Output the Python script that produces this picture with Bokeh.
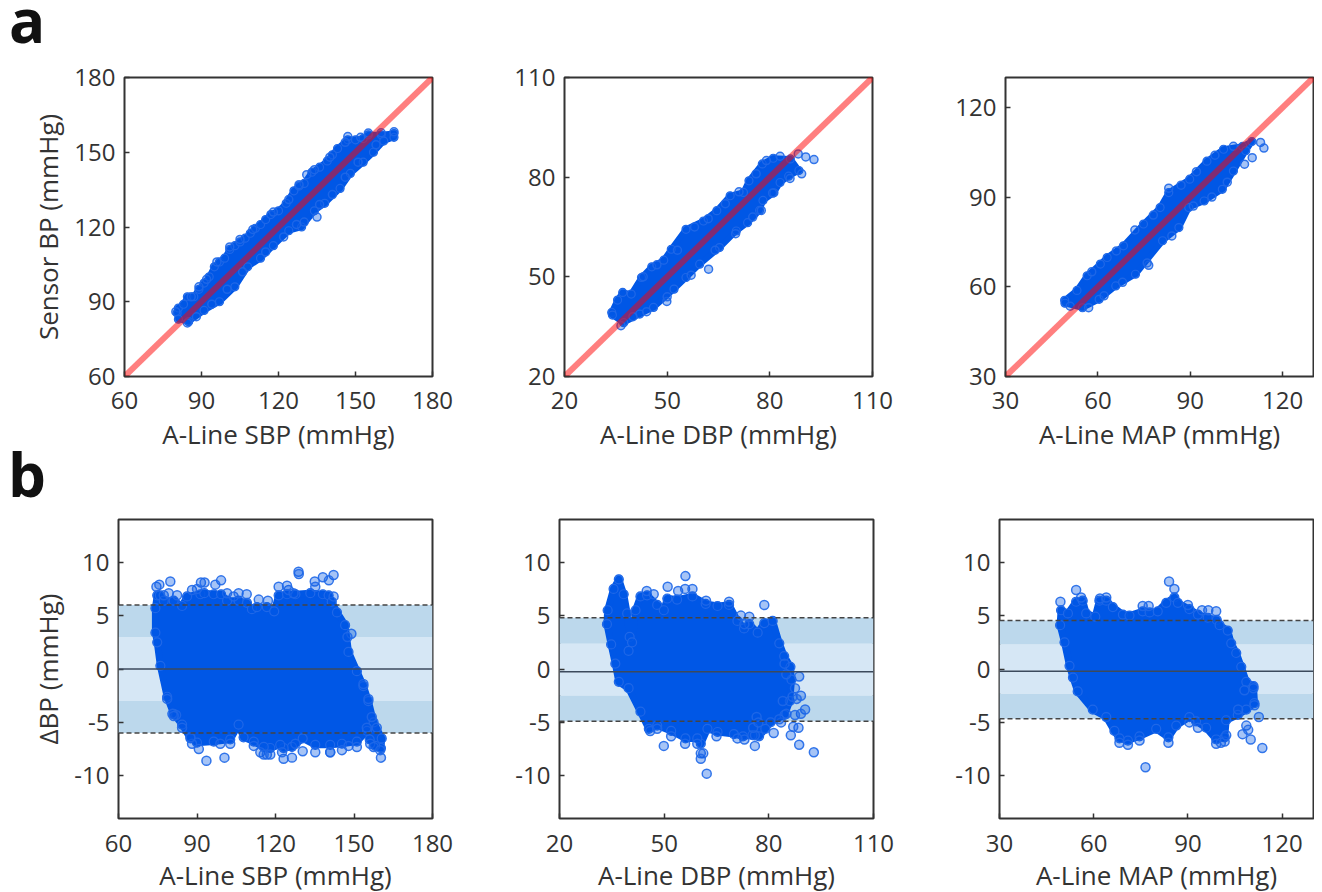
from bokeh.plotting import figure
from bokeh.layouts import column, row
from bokeh.models import FixedTicker, Div, Span, BoxAnnotation, Range1d
from bokeh.embed import file_html
from bokeh.resources import INLINE

# ---- panel a: outline of each dense cloud, then the isolated points
a1_x = [80.5,81,83,84.5,87,89,91,93,95,97,99,101,103,105,107,109,111,113,115,117,120,123,126,128,130,133,136,139,141,143,147,150,153,155,160,165,165,161,157,153,148,144,138,134,129,124,118,113,108,103,97,91,85,81]
a1_y = [85.5,87.5,89,92,92,95,97.5,100,104,106,107.5,111,112.5,114,115.5,117.5,119.5,121,123,125,126.5,129.5,134.5,136.5,137.5,142,144,146.5,149,151.5,155,155,155.5,157,157,157.5,156,154.5,150,146,141.5,135.5,129.5,126.5,120,118.5,112.5,107.5,104,96,90,86.5,82,83]
a1_px = [147,155,160,165,84.5,135,131,127,80,86,89,92,96,101,105,110,118,124,128,134,140,146,152,158,151,146,141,136,130,122,115,106,100,94,88]
a1_py = [156.3,157.7,157.8,158.2,81.5,124,141,121,86,92,96,99,106,112,115,119,126,131,137,143,148,154,156,153,146,140,133,129,122,116,110,102,95,89,84]

a2_x = [33.8,35.5,37,39.5,42.5,45.5,49,51.2,55.5,60.6,64.5,68.4,72.3,73.9,77.8,81,86,88.5,85.5,83,81.2,78,77,73.5,70.2,65.3,59.5,55.5,52,46,42,37.3,34]
a2_y = [39.3,43,45.3,44.8,49.8,53,55,58.3,64.3,66.8,69.9,74.4,75.4,78.9,84,85.7,85.5,82,80.3,78.4,75.3,73,70,66.3,63.8,58.8,53.8,49.8,46.3,40.8,38.8,36.2,38.5]
a2_px = [88.3,90.5,92.9,89.3,85.9,62.1,49.9,36.5,80.8,77.5,79,83,76,71,67,62,58,53,47,43,75,70,64,57,50,44,40]
a2_py = [87,86.1,85.3,81,79.6,52.3,42.6,35.3,75.2,70,85,86.3,81,75.6,72,67.5,65,58,53.6,50,68,63,58,50.5,44,39.5,38]

a3_x = [49.2,53.2,56.5,60.8,63,68.3,74.8,80.2,83,89.8,95.4,100.8,107,110,108,104,100.4,94.5,89.5,86.3,81,72.2,65.8,60.4,55,49.3]
a3_y = [55.5,58.8,63.7,67.6,69.8,73.7,81,86.5,91.5,96,102,106,107,108.6,105.5,98.7,92.6,88.7,86.5,79.8,75.4,64.2,60.3,55.8,53,54.5]
a3_px = [112.8,113.9,110.1,107.6,76.5,83,92,58,66,72,78,87,98,104,102,97,91,84,76,68,62,57,51]
a3_py = [108.3,106.4,103.2,101,67.2,93,98.5,65,72,79,84,94,104,107,95,90,87,77,68,61.5,57,53,53.5]

# ---- panel b
b1_x = [74.1,74.8,75.8,77.3,81.1,84.3,86.2,91.3,92.8,96.4,99.2,101.5,105.9,109.1,111,112.9,116.7,119.5,121.2,124.4,127.6,133.3,138.1,140.3,141.5,143.5,146.6,147.9,151.1,153.6,155.5,157.5,160.6,160.3,158.1,156,155,151.1,145.4,140.9,135.2,130.4,126.3,123.1,121.8,118,115.5,111.7,107.8,105.9,102.7,96.4,90,87.5,84.3,81.1,78.6,76,74.8,74.1]
b1_y = [5.7,6.9,6.9,6.4,6.4,5.9,6.8,7,7.1,7,7,6.4,6.4,6.2,5.6,5.8,5.8,5.4,6.9,7,7,7.1,7,6.9,6.3,5.3,4.1,1.6,-0.2,-1.6,-3,-5,-6.5,-7.4,-7.2,-6.6,-5.8,-6.8,-7,-7.1,-7.1,-6.5,-7.3,-7.4,-7.1,-7.4,-7.3,-6.8,-6.4,-5.2,-6.6,-6.8,-6.9,-6.5,-5.2,-4.2,-2.6,0.3,2.5,3.4]
b1_px = [79.8,93.6,100.5,130.4,128.8,128.9,142.2,138.1,140.4,135,99.2,91.5,92.9,149,147.5,82,80.6,126.3,123.1,74.5,75.6,160.3,77.3,79.2,82.4,88.1,90,97,104,125,126.9,135.2,142.2,113.6,117.1,88.1,90.7,98.9,102.7,111.7,114.2,116.7,122.5,127.6,135.2,140.9,147.9,151.1,145.4,153.6,155.5,156.8,158.7,154.9,156.2,157.5,160,78.6,81.1,84.3,87.5,121.2,124.4,109,105.9,101.5,118,115.5,140.9]
b1_py = [8.2,-8.6,-8.3,-7.7,9.1,8.9,8.8,8.6,8.3,8.2,8.3,8.1,8.1,3.3,3,-4.3,-4.2,-8.3,-8.4,7.7,7.9,-8.3,6.9,7.1,6.9,7.4,7.5,7.9,6.8,7.4,7.1,7.7,6.8,6.5,6.4,-7,-7.5,-7,-7,-7.2,-7.8,-8,-7.8,-7,-7.8,-7.8,-7.2,-7.3,-7.6,-1.4,-2.8,-4.5,-5.5,-5.5,-7,-7.3,-7.6,-2.8,-4.4,-5.5,-6.4,7.7,7.8,7,7.1,7.1,-8,-8,-7.8]

b2_x = [33.6,33.8,35.5,37,38.4,39.4,40.1,39.8,40.8,41.8,43.2,45.1,48,49.9,50.9,53.7,58.1,61.9,65.3,68.6,71,72.9,74.4,76.8,78.7,81.1,83,84.4,86.2,86.5,86,84.5,80.5,79,77.2,75.3,72.6,70,65.3,62.4,60.5,59.5,56.1,52,48,45.6,43.2,39.8,37,36,34.8]
b2_y = [4.2,5.5,7.5,8.4,7,5.2,3,1.7,2.5,5.5,6.8,6.9,6,5.5,6.6,6.5,6.8,6.1,5.9,6,4.5,3.8,4.2,3.4,4.3,4.5,2.4,1.2,0.2,-1,-3,-4.3,-5,-5.6,-6.3,-6.2,-6.3,-6.1,-5.9,-5.6,-7,-6.5,-6.5,-5.8,-5.3,-5.6,-4,-1.8,-1.2,0.5,2.3]
b2_px = [56.1,78.7,92.9,62.2,49.9,88.7,60.5,61.2,88.7,87.5,89.2,90.4,89.2,88,86.8,87.5,88.5,87,86.3,83.5,81.4,51,54,56,58.1,74.4,73,72,84.5,85,84,85,83,73,71,76,75.5,76.5,77,76,60.5,59.5,56,65,52,46,48,45,47,62,68.6]
b2_py = [8.7,6,-7.8,-9.8,-7.2,-7.1,-7.9,-7.9,-0.7,-1.8,-2.5,-3.8,-4.2,-2.8,-2.6,-4.3,-5.5,-5.4,-6.2,-5,-6,7.7,7.3,7.5,7.5,4.9,4.2,5,0.5,-0.5,-3,-4.2,-4.7,-6.6,-6.5,-6.2,-5.5,-4.5,-5,-7.2,-8.4,-7,-7,-6.3,-6.3,-5.8,-5.6,7.3,7,6.4,6.3]

b3_x = [49.6,51.8,54.4,56.5,57.6,60.5,61.8,64,66.1,69.3,71.4,75.6,77.8,80.4,83.1,85.7,86.8,90.5,93.2,96.3,99.2,100.1,102.7,103.8,105.4,107,108.6,110.9,111.2,108.6,105.9,102.2,101.7,99,95.8,92.6,90.5,86.3,83.8,79.9,74.6,70.9,68.2,66.6,64,59.7,54.9,53.4,52.3,50.7,49.3]
b3_y = [5.5,5.2,6.3,6.4,5.2,4.9,6.4,6.4,5.8,5.1,5,5.4,5.3,5.4,6.2,6.7,6.2,5.6,5.1,4.8,4.6,4.1,3.6,2.4,1.5,0.2,-1.2,-1.6,-3.2,-3.8,-4.3,-4.8,-6.4,-6.6,-5.5,-4.9,-4.5,-5.3,-6.4,-5.6,-6.3,-6.7,-6.5,-5.8,-4.5,-3.8,-2.1,-0.8,0.3,2.5,4.1]
b3_px = [49.4,54.4,84,85.7,76.5,113.7,112.6,110,107.4,108.6,109.2,99,96.5,75.6,77.5,68.2,70.9,74.6,83.8,99,100.5,101.7,102.2,90,94.5,110.9,111.2,108,106,56,62,64,90.5,93.2]
b3_py = [6.3,7.4,8.2,7.5,-9.2,-7.4,-4.5,-6.6,-6.1,-5.3,-5.7,5.4,5.5,5.9,5.9,-6.9,-7.1,-6.7,-6.9,-7,-6.9,-6.8,-6.2,6,5.5,-1.8,-3.4,-2,-3.8,6.7,6.6,6.7,-5,-5.5]

# ---- limits of agreement: mean, inner band (upper, lower), outer limit (upper, lower)
b1_lines = [0.0, 3.0, -3.0, 6.0, -6.0]
b2_lines = [-0.25, 2.36, -2.48, 4.8, -4.9]
b3_lines = [-0.2, 2.3, -2.32, 4.54, -4.66]

ranges = [(60, 180), (20, 110), (30, 130)]
ticks_a = [[60, 90, 120, 150, 180], [20, 50, 80, 110], [30, 60, 90, 120]]
ticks_b = [-10, -5, 0, 5, 10]
xlabels = ["A-Line SBP (mmHg)", "A-Line DBP (mmHg)", "A-Line MAP (mmHg)"]

FONT = "Open Sans"
TXT = "#333333"
BLUE = "#0057e6"
EDGE = "#1f68e8"


def base(i, yrange, yticks, left, fw, right, top, bottom, tick_gap, label_gap, ylabel=None):
    p = figure(width=left + fw + right, height=top + 299 + bottom,
               x_range=Range1d(*ranges[i]), y_range=Range1d(*yrange),
               min_border_left=left, min_border_right=right, min_border_top=top, min_border_bottom=bottom,
               toolbar_location=None, output_backend="svg", background_fill_color="white",
               border_fill_color=None)
    p.grid.visible = False
    p.outline_line_color = "#333333"
    p.outline_line_width = 2
    p.xaxis.ticker = FixedTicker(ticks=ticks_a[i])
    p.yaxis.ticker = FixedTicker(ticks=yticks)
    p.yaxis.major_label_overrides = {t: str(t) for t in yticks}
    p.xaxis.axis_label = xlabels[i]
    if ylabel:
        p.yaxis.axis_label = ylabel
    for ax in (p.xaxis[0], p.yaxis[0]):
        ax.axis_line_color = None
        ax.major_tick_in = 5
        ax.major_tick_out = 0
        ax.major_tick_line_color = "#333333"
        ax.major_tick_line_width = 1.5
        ax.minor_tick_line_color = None
        ax.major_label_text_font = FONT
        ax.major_label_text_font_size = "24px"
        ax.major_label_text_color = TXT
        ax.axis_label_text_font = FONT
        ax.axis_label_text_font_size = "26px"
        ax.axis_label_text_font_style = "normal"
        ax.axis_label_text_color = TXT
    p.xaxis.major_label_standoff = tick_gap
    p.yaxis.major_label_standoff = 9
    p.xaxis.axis_label_standoff = label_gap
    p.yaxis.axis_label_standoff = 5
    return p


def cloud(p, x, y, px, py, size):
    p.patch(x, y, fill_color=BLUE, line_color=BLUE, line_width=size - 2, line_join="round")
    p.scatter(x, y, size=size, fill_color=BLUE, fill_alpha=0.8, line_color=EDGE, line_width=1.2)
    p.scatter(px, py, size=size, fill_color=BLUE, fill_alpha=0.35, line_color=EDGE, line_alpha=0.9, line_width=1.5)


def panel_a(i, x, y, px, py, left, right, ylabel=None):
    p = base(i, ranges[i], ticks_a[i], left, 308, right, 69, 78, 15, 4, ylabel)
    cloud(p, x, y, px, py, 8)
    p.line(list(ranges[i]), list(ranges[i]), line_color="#ff0000", line_alpha=0.5, line_width=6)
    return p


def panel_b(i, x, y, px, py, lines, left, right, ylabel=None):
    p = base(i, (-14, 14), ticks_b, left, 314, right, 65, 77, 16, 2, ylabel)
    mean, inner_hi, inner_lo, outer_hi, outer_lo = lines
    p.add_layout(BoxAnnotation(bottom=inner_lo, top=inner_hi, fill_color="#d6e7f5", fill_alpha=1, line_color=None, level="underlay"))
    p.add_layout(BoxAnnotation(bottom=inner_hi, top=outer_hi, fill_color="#bcd8ec", fill_alpha=1, line_color=None, level="underlay"))
    p.add_layout(BoxAnnotation(bottom=outer_lo, top=inner_lo, fill_color="#bcd8ec", fill_alpha=1, line_color=None, level="underlay"))
    cloud(p, x, y, px, py, 9)
    p.add_layout(Span(location=mean, dimension="width", line_color="#3c4a5c", line_width=1.5))
    for v in (outer_hi, outer_lo):
        p.add_layout(Span(location=v, dimension="width", line_color="#444444", line_width=1.5, line_dash="5 3"))
    return p


f1 = panel_a(0, a1_x, a1_y, a1_px, a1_py, 116, 68, "Sensor BP (mmHg)")
f2 = panel_a(1, a2_x, a2_y, a2_px, a2_py, 64, 70)
f3 = panel_a(2, a3_x, a3_y, a3_px, a3_py, 63, 1)
f4 = panel_b(0, b1_x, b1_y, b1_px, b1_py, b1_lines, 110, 68, "\u0394BP (mmHg)")
f5 = panel_b(1, b2_x, b2_y, b2_px, b2_py, b2_lines, 59, 69)
f6 = panel_b(2, b3_x, b3_y, b3_px, b3_py, b3_lines, 57, 1)

letter_style = {"font-family": FONT, "font-size": "60px", "font-weight": "bold", "line-height": "40px",
                "color": "#111111", "position": "relative", "z-index": "10", "overflow": "visible"}
div_a = Div(text="a", width=50, height=40, margin=(-8, 0, -32, 1), styles=letter_style)
div_b = Div(text="b", width=50, height=40, margin=(0, 0, -40, 0), styles=letter_style)

page = column(div_a, row(f1, f2, f3), div_b, row(f4, f5, f6), spacing=0, margin=(8, 0, -3, 8))
open("out.html", "w").write(file_html(page, INLINE))
